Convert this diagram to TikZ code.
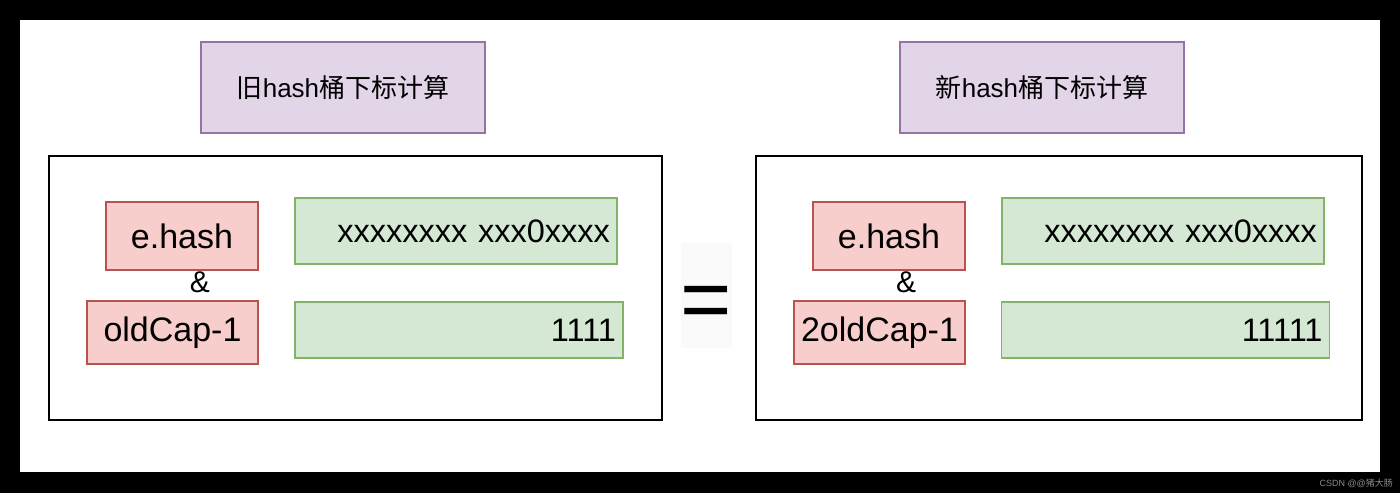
\documentclass[tikz,border=0pt]{standalone}
\usepackage{fontspec}
\setmainfont{Liberation Sans}
\newfontfamily\cjk{Noto Sans CJK SC}
\usetikzlibrary{positioning}
\definecolor{titlefill}{HTML}{E1D5E7}
\definecolor{titledraw}{HTML}{9673A6}
\definecolor{opfill}{HTML}{F8CECC}
\definecolor{opdraw}{HTML}{B85450}
\definecolor{bitfill}{HTML}{D5E8D4}
\definecolor{bitdraw}{HTML}{82B366}
\tikzset{
  % Panel headings
  titlebox/.style={draw=titledraw, fill=titlefill, line width=1.5pt, minimum width=284pt, minimum height=91pt, font=\fontsize{26}{30}\selectfont},
  % Outer frame of each panel
  panelbox/.style={draw=black, line width=1.5pt, minimum height=264pt},
  % Operands
  opbox/.style={draw=opdraw, fill=opfill, line width=1.5pt, inner sep=0pt, font=\fontsize{34}{40}\selectfont},
  % Bit patterns
  bitbox/.style={draw=bitdraw, fill=bitfill, line width=1.5pt, inner xsep=7pt, inner ysep=0pt, align=right, font=\fontsize{32.5}{38}\selectfont},
  % Operator signs
  opsign/.style={inner sep=0pt, font=\fontsize{30}{34}\selectfont},
}
\begin{document}
\begin{tikzpicture}[x=1pt, y=-1pt]

  % Background and page
  \fill[black] (0,0) rectangle (1400,493);
  \fill[white] (20,20) rectangle (1380,472);

  % Old index
  \node[titlebox] (oldtitle) at (343,87.5) {{\cjk 旧}hash{\cjk 桶下标计算}};
  \node[panelbox, minimum width=613pt] (oldpanel) at (355.5,288) {};
  \node[opbox, minimum width=152pt, minimum height=68pt] (oldhash) at (182,236) {e.hash};
  \node[opbox, minimum width=171pt, minimum height=63pt] (oldmask) at (172.5,332.5) {oldCap-1};
  \node[opsign] (oldand) at (200,282) {\&};
  \node[bitbox, text width=308pt, minimum height=66pt] (oldhashbits) at (456,231) {xxxxxxxx xxx0xxxx};
  \node[bitbox, text width=314pt, minimum height=56pt] (oldmaskbits) at (459,330) {1111};

  % Equals sign
  \fill[black!2] (681,243) rectangle (732,348);
  \node[inner sep=0pt, anchor=base, font=\fontsize{88}{90}\selectfont] (equal) at (706,329.5) {=};

  % New index
  \node[titlebox] (newtitle) at (1042,87.5) {{\cjk 新}hash{\cjk 桶下标计算}};
  \node[panelbox, minimum width=606pt] (newpanel) at (1059,288) {};
  \node[opbox, minimum width=152pt, minimum height=68pt] (newhash) at (889,236) {e.hash};
  \node[opbox, minimum width=171pt, minimum height=63pt] (newmask) at (879.5,332.5) {2oldCap-1};
  \node[opsign] (newand) at (906,282) {\&};
  \node[bitbox, text width=308pt, minimum height=66pt] (newhashbits) at (1163,231) {xxxxxxxx xxx0xxxx};
  \node[bitbox, text width=314pt, minimum height=56pt] (newmaskbits) at (1165.5,330) {11111};

  % Watermark
  \node[anchor=east, inner sep=0pt, text=black!45, font=\fontsize{9}{10}\selectfont] (mark) at (1393,483) {CSDN @@{\cjk 猪大肠}};

\end{tikzpicture}
\end{document}
